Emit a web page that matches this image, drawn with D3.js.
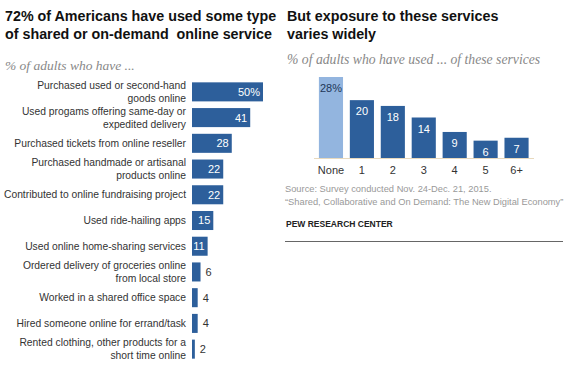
<!DOCTYPE html>
<html>
<head>
<meta charset="utf-8">
<script src="https://cdn.jsdelivr.net/npm/d3@7"></script>
<style>
  body { margin: 0; background: #fff; }
  svg { display: block; }
</style>
</head>
<body>
<div id="chart"></div>
<script>
// left panel data
var services = [
  ["Purchased used or second-hand", "goods online"],
  ["Used progams offering same-day or", "expedited delivery"],
  ["Purchased tickets from online reseller"],
  ["Purchased handmade or artisanal", "products online"],
  ["Contributed to online fundraising project"],
  ["Used ride-hailing apps"],
  ["Used online home-sharing services"],
  ["Ordered delivery of groceries online", "from local store"],
  ["Worked in a shared office space"],
  ["Hired someone online for errand/task"],
  ["Rented clothing, other products for a", "short time online"]
];
var serviceValues = [50, 41, 28, 22, 22, 15, 11, 6, 4, 4, 2];

// right panel data
var counts = ["None", "1", "2", "3", "4", "5", "6+"];
var countValues = [28, 20, 18, 14, 9, 6, 7];

var dark = "#2d5f9b",
    light = "#93b5df";

var svg = d3.select("#chart").append("svg")
    .attr("width", 565)
    .attr("height", 378);

var font = "'Liberation Sans', Arial, sans-serif";
var serif = "'Liberation Serif', 'DejaVu Serif', serif";

//titles
var titles = [
  {x: 5, lines: ["72% of Americans have used some type", "of shared or on-demand  online service"]},
  {x: 287, lines: ["But exposure to these services", "varies widely"]}
];
titles.forEach(function(t){
  var tx = svg.append("text")
      .attr("x", t.x).attr("y", 21)
      .style("font-family", font)
      .style("font-weight", "bold")
      .style("font-size", "14.3px")
      .style("white-space", "pre")
      .attr("fill", "#111");
  t.lines.forEach(function(l, i){
    tx.append("tspan").attr("x", t.x).attr("dy", i === 0 ? 0 : 18).text(l);
  });
});

svg.append("text").attr("x", 5).attr("y", 70)
    .style("font-family", serif).style("font-style", "italic").style("font-size", "13.5px")
    .attr("fill", "#888").text("% of adults who have ...");

svg.append("text").attr("x", 287).attr("y", 64)
    .style("font-family", serif).style("font-style", "italic").style("font-size", "13.7px")
    .attr("fill", "#888").text("% of adults who have used ... of these services");

// ---- left chart ----
var x = d3.scaleLinear().domain([0, 50]).range([192, 263]);
var y = d3.scaleBand()
    .domain(d3.range(services.length))
    .range([79, 362])
    .paddingInner(0.26)
    .paddingOuter(0.13);

var row = svg.selectAll(".row")
    .data(serviceValues)
    .enter().append("g")
    .attr("class", "row");

row.append("rect")
    .attr("x", x(0))
    .attr("y", function(d, i){ return y(i); })
    .attr("width", function(d){ return x(d) - x(0); })
    .attr("height", y.bandwidth())
    .attr("fill", dark);

row.append("text")
    .attr("x", function(d){ return d >= 11 ? x(d) - 3 : x(d) + 5; })
    .attr("y", function(d, i){ return y(i) + y.bandwidth() / 2; })
    .attr("dy", "0.36em")
    .attr("text-anchor", function(d){ return d >= 11 ? "end" : "start"; })
    .attr("fill", function(d){ return d >= 11 ? "#fff" : "#333"; })
    .style("font-family", font)
    .style("font-size", "11px")
    .text(function(d, i){ return i === 0 ? d + "%" : d; });

row.append("text")
    .attr("text-anchor", "end")
    .style("font-family", font)
    .style("font-size", "10.3px")
    .attr("fill", "#333")
    .each(function(d, i){
      var lines = services[i];
      var cy = y(i) + y.bandwidth() / 2;
      var t = d3.select(this);
      lines.forEach(function(l, j){
        t.append("tspan")
          .attr("x", 186)
          .attr("y", cy + (j - (lines.length - 1) / 2) * 13)
          .attr("dy", "0.36em")
          .text(l);
      });
    });

// ---- right chart ----
var x2 = d3.scaleBand().domain(counts).range([315.5, 532]).paddingInner(0.22).paddingOuter(0.11);
var y2 = d3.scaleLinear().domain([0, 28]).range([158, 77]);

svg.selectAll(".col")
    .data(countValues)
    .enter().append("rect")
    .attr("x", function(d, i){ return x2(counts[i]); })
    .attr("y", function(d){ return y2(d); })
    .attr("width", x2.bandwidth())
    .attr("height", function(d){ return y2(0) - y2(d); })
    .attr("fill", function(d, i){ return i === 0 ? light : dark; });

svg.selectAll(".colval")
    .data(countValues)
    .enter().append("text")
    .attr("x", function(d, i){ return x2(counts[i]) + x2.bandwidth() / 2; })
    .attr("y", function(d){ return y2(d) + 15; })
    .attr("text-anchor", "middle")
    .attr("fill", function(d, i){ return i === 0 ? "#1d3557" : "#fff"; })
    .style("font-family", font)
    .style("font-size", "11px")
    .text(function(d, i){ return i === 0 ? d + "%" : d; });

var axis = svg.append("g")
    .attr("transform", "translate(0,158)")
    .call(d3.axisBottom(x2).tickSize(0).tickPadding(8));
axis.select(".domain").attr("stroke", "#e8d9bd").attr("d", "M314,0.5H534");
axis.selectAll("text")
    .style("font-family", font)
    .style("font-size", "11px")
    .attr("fill", "#333");

// source notes
svg.append("text").attr("x", 285).attr("y", 192)
    .style("font-family", font).style("font-size", "9.3px").attr("fill", "#999")
    .text("Source: Survey conducted Nov. 24-Dec. 21, 2015.");
svg.append("text").attr("x", 285).attr("y", 205)
    .style("font-family", font).style("font-size", "9.3px").attr("fill", "#999")
    .text("\u201cShared, Collaborative and On Demand: The New Digital Economy\u201d");
svg.append("text").attr("x", 286).attr("y", 227)
    .style("font-family", font).style("font-size", "8.5px").style("font-weight", "bold").attr("fill", "#222")
    .text("PEW RESEARCH CENTER");
svg.append("line")
    .attr("x1", 285).attr("x2", 563).attr("y1", 241.5).attr("y2", 241.5)
    .attr("stroke", "#666").attr("stroke-width", 1);
</script>
</body>
</html>
